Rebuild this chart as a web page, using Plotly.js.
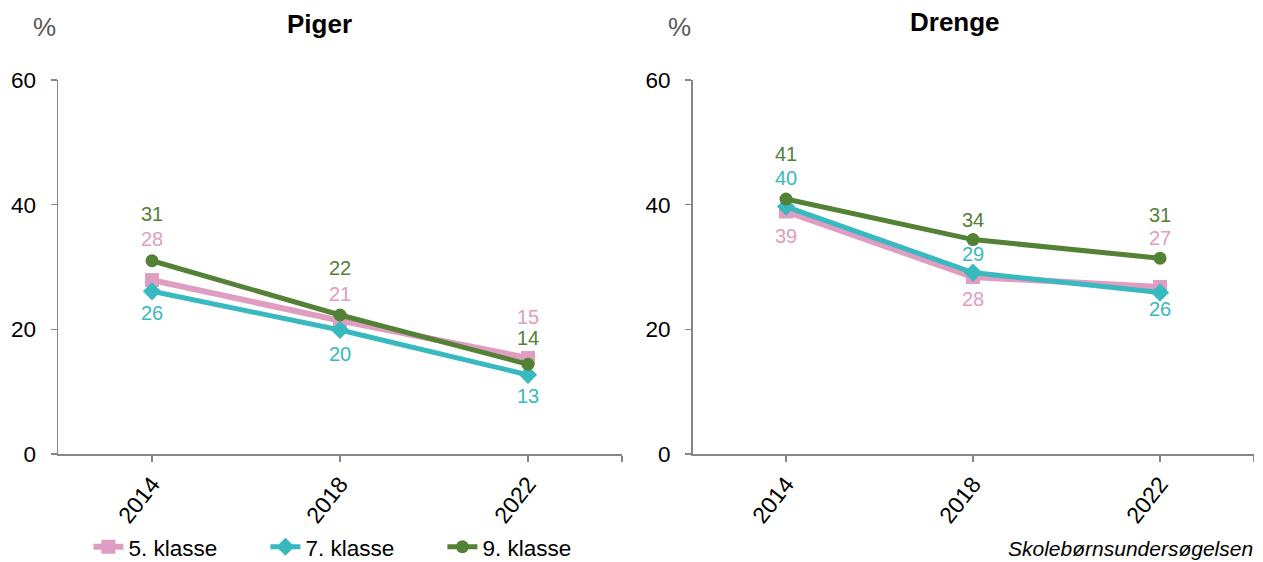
<!DOCTYPE html>
<html>
<head>
<meta charset="utf-8">
<script src="https://cdn.plot.ly/plotly-3.0.1.min.js"></script>
<style>html,body{margin:0;padding:0;background:#fff;}#chart{width:1263px;height:562px;}</style>
</head>
<body>
<div id="chart"></div>
<script>
// ---- data ----
const years = ["2014", "2018", "2022"];
const seriesNames = ["5. klasse", "7. klasse", "9. klasse"];
const pigerK5 = [27.9, 21.4, 15.4];
const pigerK7 = [26.1, 19.9, 12.7];
const pigerK9 = [31.0, 22.3, 14.4];
const drengeK5 = [38.9, 28.4, 26.8];
const drengeK7 = [39.7, 29.1, 25.9];
const drengeK9 = [40.9, 34.4, 31.4];
const panelTitles = ["Piger", "Drenge"];
const yTicks = [0, 20, 40, 60];
const sourceText = "Skolebørnsundersøgelsen";

// ---- styling ----
const colors = ["#DF9DC1", "#38B8BF", "#538135"];
const symbols = ["square", "diamond", "circle"];
const lineW = [6, 5, 5];
const markerSize = [14, 14, 13];
// label pixel offsets (positive = up)
const pigerShift = [[41, 27, 41], [-22, -24, -21], [47, 47, 26]];
const drengeShift = [[-24, -22, 49], [29, 19, -16], [45, 20, 43]];

const xIdx = years.map((_, i) => i);
const FONT = "Liberation Sans, Arial, sans-serif";
const piger = [pigerK5, pigerK7, pigerK9];
const drenge = [drengeK5, drengeK7, drengeK9];

const traces = [];
[piger, drenge].forEach((panel, p) => {
  panel.forEach((vals, s) => {
    traces.push({
      x: xIdx, y: vals, type: "scatter", mode: "lines+markers",
      name: seriesNames[s], legendgroup: seriesNames[s], showlegend: p === 0,
      xaxis: p === 0 ? "x" : "x2", yaxis: p === 0 ? "y" : "y2",
      line: {color: colors[s], width: lineW[s]},
      marker: {color: colors[s], symbol: symbols[s], size: markerSize[s]},
      hoverinfo: "skip"
    });
  });
});

const annotations = [];
[piger, drenge].forEach((panel, p) => {
  const shifts = p === 0 ? pigerShift : drengeShift;
  panel.forEach((vals, s) => {
    vals.forEach((v, i) => {
      annotations.push({
        xref: p === 0 ? "x" : "x2", yref: p === 0 ? "y" : "y2",
        x: i, y: v, text: String(Math.round(v)), showarrow: false,
        yshift: shifts[s][i], xanchor: "center", yanchor: "middle",
        font: {family: FONT, size: 20, color: colors[s]}
      });
    });
  });
});
// panel titles and % labels
[[0.253, 1.15], [0.756, 1.155]].forEach((pos, p) => {
  annotations.push({xref: "paper", yref: "paper", x: pos[0], y: pos[1], text: "<b>" + panelTitles[p] + "</b>",
    showarrow: false, xanchor: "center", yanchor: "middle", font: {family: FONT, size: 26, color: "#000"}});
});
[0.0356, 0.538].forEach(x => {
  annotations.push({xref: "paper", yref: "paper", x: x, y: 1.142, text: "%",
    showarrow: false, xanchor: "center", yanchor: "middle", font: {family: FONT, size: 26, color: "#595959"}});
});
annotations.push({xref: "paper", yref: "paper", x: 0.9935, y: -0.252, text: "<i>" + sourceText + "</i>",
  showarrow: false, xanchor: "right", yanchor: "middle", font: {family: FONT, size: 21, color: "#000"}});

const xAxisBase = {
  range: [-0.5, 2.5], tickvals: [0, 1, 2, 2.5], ticktext: years.concat([""]),
  tickangle: -52, ticks: "outside", ticklen: 6, tickcolor: "#868686", tickwidth: 1.5,
  showline: true, linecolor: "#868686", linewidth: 1.5, showgrid: false, zeroline: false,
  tickfont: {family: FONT, size: 23, color: "#000"}, fixedrange: true, automargin: false
};
const yAxisBase = {
  range: [0, 60], tickvals: yTicks, ticks: "outside", ticklen: 6, tickcolor: "#868686", tickwidth: 1.5,
  showline: true, linecolor: "#868686", linewidth: 1.5, showgrid: false, zeroline: false,
  tickfont: {family: FONT, size: 22.5, color: "#000"}, ticklabelstandoff: 10, fixedrange: true, automargin: false
};

const layout = {
  width: 1263, height: 562,
  margin: {l: 0, r: 0, t: 80, b: 108, autoexpand: false},
  paper_bgcolor: "#fff", plot_bgcolor: "#fff",
  font: {family: FONT},
  xaxis: Object.assign({}, xAxisBase, {domain: [58 / 1263, 622 / 1263], anchor: "y"}),
  yaxis: Object.assign({}, yAxisBase, {domain: [0, 1], anchor: "x"}),
  xaxis2: Object.assign({}, xAxisBase, {domain: [692.5 / 1263, 1253.5 / 1263], anchor: "y2"}),
  yaxis2: Object.assign({}, yAxisBase, {domain: [0, 1], anchor: "x2"}),
  showlegend: true,
  legend: {orientation: "h", x: 0.07, xanchor: "left", y: -0.249, yanchor: "middle",
    font: {family: FONT, size: 22.5, color: "#000"}, entrywidth: 132, entrywidthmode: "pixels",
    tracegroupgap: 0, bgcolor: "rgba(0,0,0,0)"},
  annotations: annotations
};

Plotly.newPlot("chart", traces, layout, {displayModeBar: false, staticPlot: true});
</script>
</body>
</html>
